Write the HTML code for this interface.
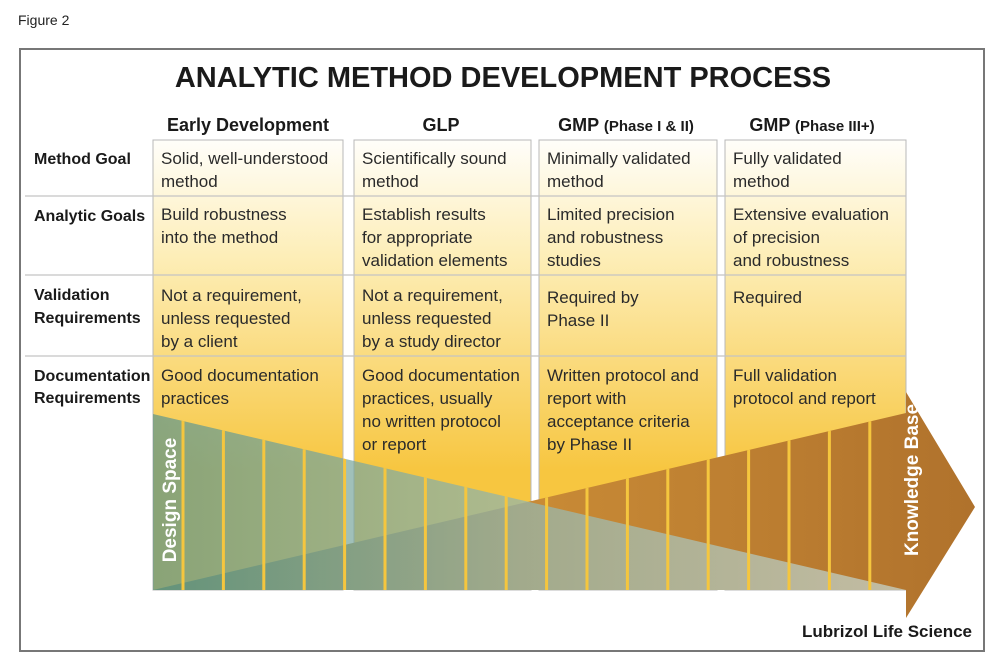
<!DOCTYPE html>
<html><head><meta charset="utf-8"><style>
body{margin:0;background:#fff}
svg{display:block}
text{font-family:"Liberation Sans",sans-serif}
.b{font-family:"Liberation Sans Narrow","Liberation Sans",sans-serif;font-weight:bold}
.t{font-size:17px;fill:#2a2a2a}
.l{font-size:16px;fill:#1a1a1a}
.h{font-size:18px;fill:#1a1a1a}
</style></head><body>
<svg width="1000" height="666" viewBox="0 0 1000 666">
<defs>
<linearGradient id="boxg" gradientUnits="userSpaceOnUse" x1="0" y1="140" x2="0" y2="470">
<stop offset="0" stop-color="#fffefa"/><stop offset="0.35" stop-color="#fdeeb8"/><stop offset="1" stop-color="#f7c640"/>
</linearGradient>
<linearGradient id="tealg" gradientUnits="userSpaceOnUse" x1="153" y1="0" x2="906" y2="0">
<stop offset="0" stop-color="#5f968c"/><stop offset="1" stop-color="#c9d8d0"/>
</linearGradient>
<linearGradient id="orgg" gradientUnits="userSpaceOnUse" x1="153" y1="0" x2="975" y2="0">
<stop offset="0" stop-color="#6e8a4c"/><stop offset="0.45" stop-color="#c98b36"/><stop offset="1" stop-color="#b0722c"/>
</linearGradient>
<clipPath id="shapes">
<polygon points="153,590 906,413 906,392 975,507 906,618 906,590"/>
<polygon points="153,414 153,590 906,590"/>
</clipPath>
</defs>
<text x="18" y="25" font-size="14" fill="#222">Figure 2</text>
<rect x="20" y="49" width="964" height="602" fill="#fff" stroke="#777" stroke-width="2"/>
<text x="503" y="87" text-anchor="middle" class="b" font-size="29" fill="#1a1a1a">ANALYTIC METHOD DEVELOPMENT PROCESS</text>

<g>
<rect x="153" y="140" width="190" height="450" fill="url(#boxg)" stroke="#b8b8b8"/>
<rect x="354" y="140" width="177" height="450" fill="url(#boxg)" stroke="#b8b8b8"/>
<rect x="539" y="140" width="178" height="450" fill="url(#boxg)" stroke="#b8b8b8"/>
<rect x="725" y="140" width="181" height="450" fill="url(#boxg)" stroke="#b8b8b8"/>
</g>
<g stroke="#c4c4c4" stroke-width="1.2">
<line x1="25" y1="196" x2="906" y2="196"/><line x1="25" y1="275" x2="906" y2="275"/><line x1="25" y1="356" x2="906" y2="356"/>
</g>

<g class="b h" text-anchor="middle">
<text x="248" y="131">Early Development</text>
<text x="441" y="131">GLP</text>
<text x="626" y="131">GMP <tspan font-size="15">(Phase I &amp; II)</tspan></text>
<text x="812" y="131">GMP <tspan font-size="15">(Phase III+)</tspan></text>
</g>
<g class="b l">
<text x="34" y="164">Method Goal</text>
<text x="34" y="221">Analytic Goals</text>
<text x="34" y="300">Validation</text><text x="34" y="323">Requirements</text>
<text x="34" y="381">Documentation</text><text x="34" y="403">Requirements</text>
</g>
<g class="t">
<text x="161" y="164">Solid, well-understood</text><text x="161" y="187">method</text>
<text x="362" y="164">Scientifically sound</text><text x="362" y="187">method</text>
<text x="547" y="164">Minimally validated</text><text x="547" y="187">method</text>
<text x="733" y="164">Fully validated</text><text x="733" y="187">method</text>
<text x="161" y="220">Build robustness</text><text x="161" y="243">into the method</text>
<text x="362" y="220">Establish results</text><text x="362" y="243">for appropriate</text><text x="362" y="266">validation elements</text>
<text x="547" y="220">Limited precision</text><text x="547" y="243">and robustness</text><text x="547" y="266">studies</text>
<text x="733" y="220">Extensive evaluation</text><text x="733" y="243">of precision</text><text x="733" y="266">and robustness</text>
<text x="161" y="301">Not a requirement,</text><text x="161" y="324">unless requested</text><text x="161" y="347">by a client</text>
<text x="362" y="301">Not a requirement,</text><text x="362" y="324">unless requested</text><text x="362" y="347">by a study director</text>
<text x="547" y="303">Required by</text><text x="547" y="326">Phase II</text>
<text x="733" y="303">Required</text>
<text x="161" y="381">Good documentation</text><text x="161" y="404">practices</text>
<text x="362" y="381">Good documentation</text><text x="362" y="404">practices, usually</text><text x="362" y="427">no written protocol</text><text x="362" y="450">or report</text>
<text x="547" y="381">Written protocol and</text><text x="547" y="404">report with</text><text x="547" y="427">acceptance criteria</text><text x="547" y="450">by Phase II</text>
<text x="733" y="381">Full validation</text><text x="733" y="404">protocol and report</text>
</g>

<polygon points="153,590 906,413 906,392 975,507 906,618 906,590" fill="url(#orgg)"/>
<polygon points="153,414 153,590 906,590" fill="url(#tealg)" opacity="0.72"/>
<g clip-path="url(#shapes)" stroke="#f5c63e" stroke-width="3" id="stripes"></g>

<text transform="translate(176,500) rotate(-90)" text-anchor="middle" class="b" font-size="19" fill="#fff">Design Space</text>
<text transform="translate(918,480) rotate(-90)" text-anchor="middle" class="b" font-size="19" fill="#fff">Knowledge Base</text>
<text x="972" y="637" text-anchor="end" class="b" font-size="17" fill="#1a1a1a">Lubrizol Life Science</text>
</svg>
<script>
var g=document.getElementById('stripes');
for(var i=0;i<18;i++){
  var x=183+i*40.4;
  var ln=document.createElementNS('http://www.w3.org/2000/svg','line');
  ln.setAttribute('x1',x);ln.setAttribute('x2',x);ln.setAttribute('y1',380);ln.setAttribute('y2',590);
  
  
  g.appendChild(ln);
}
</script>
</body></html>
